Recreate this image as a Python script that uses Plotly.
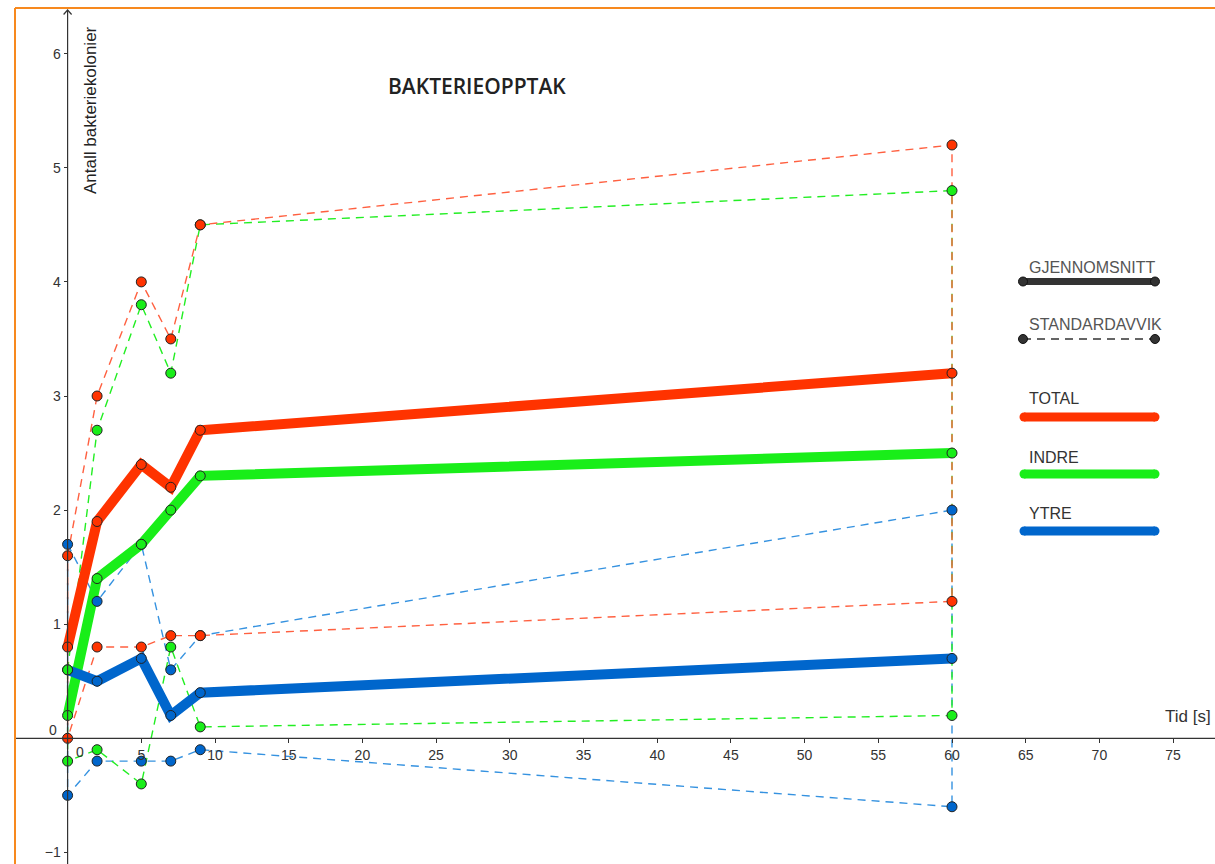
import plotly.graph_objects as go

# ---- data -------------------------------------------------------------
tid = [0, 2, 5, 7, 9, 60]

total_snitt = [0.8, 1.9, 2.4, 2.2, 2.7, 3.2]
total_over = [1.6, 3.0, 4.0, 3.5, 4.5, 5.2]
total_under = [0.0, 0.8, 0.8, 0.9, 0.9, 1.2]

indre_snitt = [0.2, 1.4, 1.7, 2.0, 2.3, 2.5]
indre_over = [0.6, 2.7, 3.8, 3.2, 4.5, 4.8]
indre_under = [-0.2, -0.1, -0.4, 0.8, 0.1, 0.2]

ytre_snitt = [0.6, 0.5, 0.7, 0.2, 0.4, 0.7]
ytre_over = [1.7, 1.2, 1.7, 0.6, 0.9, 2.0]
ytre_under = [-0.5, -0.2, -0.2, -0.2, -0.1, -0.6]

x_ticks = [5, 10, 15, 20, 25, 30, 35, 40, 45, 50, 55, 60, 65, 70, 75]
y_ticks = [-1, 1, 2, 3, 4, 5, 6]

# ---- view geometry ----------------------------------------------------
W, H = 1215, 864
X0PX, SX = 67.6, 14.74      # pixel of x=0, pixels per second
Y0PX, SY = 738.3, 114.1     # pixel of y=0, pixels per unit
xr = [-X0PX / SX, (W - X0PX) / SX]
yr = [-(H - Y0PX) / SY, Y0PX / SY]


def px_x(px):
    return (px - X0PX) / SX


def px_y(py):
    return (Y0PX - py) / SY


FONT = "Liberation Sans, Arial, sans-serif"
RED, GREEN, BLUE = "#FF3300", "#19EE19", "#0066CC"
RED_D, GREEN_D, BLUE_D = "#FF6040", "#22EE22", "#3592E0"
EDGE = "#222222"

series = [
    ("YTRE", ytre_snitt, ytre_over, ytre_under, BLUE, BLUE_D),
    ("INDRE", indre_snitt, indre_over, indre_under, GREEN, GREEN_D),
    ("TOTAL", total_snitt, total_over, total_under, RED, RED_D),
]

fig = go.Figure()

# standard deviation band outlines (upper, right edge, lower, left edge)
for name, snitt, over, under, col, col_d in series:
    bx = list(tid) + list(reversed(tid)) + [tid[0]]
    by = list(over) + list(reversed(under)) + [over[0]]
    fig.add_trace(go.Scatter(x=bx, y=by, mode="lines",
                             line=dict(color=col_d, width=1.4, dash="8px,6px"),
                             hoverinfo="skip", showlegend=False))

# mean curves
for name, snitt, over, under, col, col_d in [series[2], series[1], series[0]]:
    fig.add_trace(go.Scatter(x=tid, y=snitt, mode="lines",
                             line=dict(color=col, width=10),
                             hoverinfo="skip", showlegend=False))

# points
for name, snitt, over, under, col, col_d in series:
    for vals in (over, under, snitt):
        fig.add_trace(go.Scatter(x=tid, y=vals, mode="markers",
                                 marker=dict(color=col, size=10,
                                             line=dict(color=EDGE, width=1)),
                                 hoverinfo="skip", showlegend=False))

# ---- key on the right -------------------------------------------------
LX0, LX1 = px_x(1023), px_x(1155)
fig.add_trace(go.Scatter(x=[LX0, LX1], y=[px_y(281.5)] * 2, mode="lines+markers",
                         line=dict(color="#333333", width=7),
                         marker=dict(color="#333333", size=9, line=dict(color="#111", width=1)),
                         hoverinfo="skip", showlegend=False))
fig.add_trace(go.Scatter(x=[LX0, LX1], y=[px_y(339)] * 2, mode="lines+markers",
                         line=dict(color="#333333", width=1.4, dash="8px,6px"),
                         marker=dict(color="#333333", size=9, line=dict(color="#111", width=1)),
                         hoverinfo="skip", showlegend=False))
for py, col in ((417, RED), (474, GREEN), (531, BLUE)):
    fig.add_trace(go.Scatter(x=[px_x(1024), px_x(1155)], y=[px_y(py)] * 2,
                             mode="lines+markers",
                             line=dict(color=col, width=9),
                             marker=dict(color=col, size=9, line=dict(width=0)),
                             hoverinfo="skip", showlegend=False))

key_texts = [("GJENNOMSNITT", 267, "#555555"), ("STANDARDAVVIK", 324, "#555555"),
             ("TOTAL", 398, "#333333"), ("INDRE", 457, "#333333"), ("YTRE", 513, "#333333")]

annotations = []
for txt, py, col in key_texts:
    annotations.append(dict(text=txt, x=1027 / W, y=1 - py / H, xref="paper", yref="paper",
                            xanchor="left", yanchor="middle", showarrow=False,
                            font=dict(family=FONT, size=16, color=col)))

annotations += [
    dict(text="BAKTERIEOPPTAK", x=477 / W, y=1 - 86 / H, xref="paper", yref="paper",
         xanchor="center", yanchor="middle", showarrow=False,
         font=dict(family="Open Sans, sans-serif", size=21, color="#222222", weight=600)),
    dict(text="Antall bakteriekolonier", x=90 / W, y=1 - 110 / H, xref="paper", yref="paper",
         xanchor="center", yanchor="middle", showarrow=False, textangle=-90,
         font=dict(family=FONT, size=17, color="#222222")),
    dict(text="Tid [s]", x=1213 / W, y=1 - 716 / H, xref="paper", yref="paper",
         xanchor="right", yanchor="middle", showarrow=False,
         font=dict(family=FONT, size=17, color="#333333")),
    dict(text="0", x=53 / W, y=1 - 730 / H, xref="paper", yref="paper",
         xanchor="center", yanchor="middle", showarrow=False,
         font=dict(family=FONT, size=14, color="#333333")),
    dict(text="0", x=80 / W, y=1 - 752 / H, xref="paper", yref="paper",
         xanchor="center", yanchor="middle", showarrow=False,
         font=dict(family=FONT, size=14, color="#333333")),
]

ORANGE = "#F7891E"
shapes = [
    # frame of the view
    dict(type="line", xref="paper", yref="paper", x0=15 / W, x1=15 / W, y0=0, y1=1 - 8 / H,
         line=dict(color=ORANGE, width=2)),
    dict(type="line", xref="paper", yref="paper", x0=15 / W, x1=1, y0=1 - 8 / H, y1=1 - 8 / H,
         line=dict(color=ORANGE, width=2)),
    # axes
    dict(type="line", xref="paper", yref="y", x0=16 / W, x1=1, y0=0, y1=0,
         line=dict(color="#333333", width=1.2)),
    dict(type="line", xref="x", yref="y", x0=0, x1=0, y0=yr[0], y1=px_y(10),
         line=dict(color="#333333", width=1.2)),
    dict(type="path", xref="paper", yref="paper",
         path=f"M {(X0PX - 4) / W},{1 - 14.5 / H} L {X0PX / W},{1 - 10 / H} L {(X0PX + 4) / W},{1 - 14.5 / H}",
         line=dict(color="#333333", width=1.2)),
]

tickfont = dict(family=FONT, size=14, color="#333333")
fig.update_layout(
    width=W, height=H,
    margin=dict(l=0, r=0, t=0, b=0),
    paper_bgcolor="white", plot_bgcolor="white",
    xaxis=dict(range=xr, showgrid=False, zeroline=False, showline=False,
               anchor="free", position=(H - Y0PX) / H,
               ticks="outside", ticklen=4, tickwidth=1, tickcolor="#333333",
               tickvals=x_ticks, tickfont=tickfont, fixedrange=True),
    yaxis=dict(range=yr, showgrid=False, zeroline=False, showline=False,
               anchor="free", position=X0PX / W,
               ticks="outside", ticklen=4, tickwidth=1, tickcolor="#333333",
               tickvals=y_ticks, tickfont=tickfont, fixedrange=True),
    annotations=annotations,
    shapes=shapes,
    showlegend=False,
    hovermode=False,
)

fig.write_html("out.html")
